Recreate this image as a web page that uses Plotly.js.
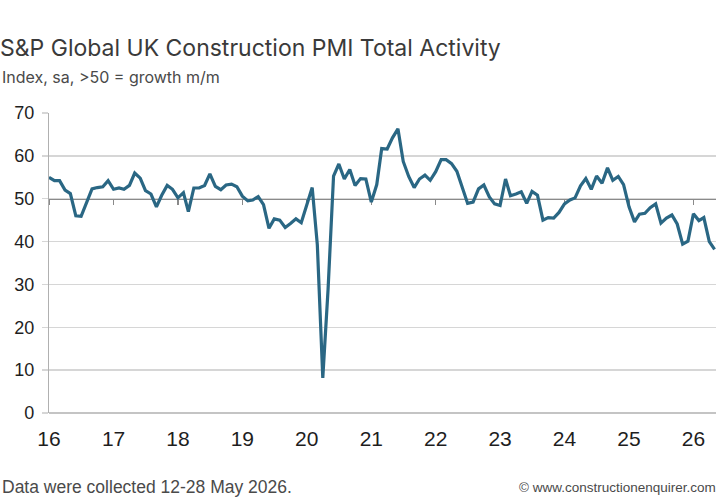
<!DOCTYPE html>
<html>
<head>
<meta charset="utf-8">
<script src="https://cdn.plot.ly/plotly-3.0.1.min.js"></script>
<style>
  html, body { margin: 0; padding: 0; background: #ffffff; }
  #chart { width: 725px; height: 500px; }
</style>
</head>
<body>
<div id="chart"></div>
<script>
// ---- Data (monthly index) ----
const startYear = 2016;
const pmi2016 = [55.0, 54.2, 54.2, 52.0, 51.2, 46.0, 45.9, 49.2, 52.3, 52.6, 52.8, 54.2];
const pmi2017 = [52.2, 52.5, 52.2, 53.1, 56.0, 54.8, 51.9, 51.1, 48.1, 50.8, 53.1, 52.2];
const pmi2018 = [50.2, 51.4, 47.0, 52.5, 52.5, 53.1, 55.8, 52.9, 52.1, 53.2, 53.4, 52.8];
const pmi2019 = [50.6, 49.5, 49.7, 50.5, 48.6, 43.1, 45.3, 45.0, 43.3, 44.2, 45.3, 44.4];
const pmi2020 = [48.4, 52.6, 39.3, 8.2, 28.9, 55.3, 58.1, 54.6, 56.8, 53.1, 54.7, 54.6];
const pmi2021 = [49.2, 53.3, 61.7, 61.6, 64.2, 66.3, 58.7, 55.2, 52.6, 54.6, 55.5, 54.3];
const pmi2022 = [56.3, 59.1, 59.1, 58.2, 56.4, 52.6, 48.9, 49.2, 52.3, 53.2, 50.4, 48.8];
const pmi2023 = [48.4, 54.6, 50.7, 51.1, 51.6, 48.9, 51.7, 50.8, 45.0, 45.6, 45.5, 46.8];
const pmi2024 = [48.8, 49.7, 50.2, 53.0, 54.7, 52.2, 55.3, 53.6, 57.2, 54.3, 55.2, 53.3];
const pmi2025 = [48.1, 44.6, 46.4, 46.6, 47.9, 48.8, 44.3, 45.5, 46.2, 44.1, 39.4, 40.1];
const pmi2026 = [46.5, 44.9, 45.6, 40.0, 38.2];

const tickYears = [2016, 2017, 2018, 2019, 2020, 2021, 2022, 2023, 2024, 2025, 2026];
const tickLabels = ["16", "17", "18", "19", "20", "21", "22", "23", "24", "25", "26"];
const yTicks = [0, 10, 20, 30, 40, 50, 60, 70];
const growthLine = 50;

const titleText = "S&P Global UK Construction PMI Total Activity";
const subtitleText = "Index, sa, >50 = growth m/m";
const footLeft = "Data were collected 12-28 May 2026.";
const footRight = "\u00A9 www.constructionenquirer.com";

// ---- Build series ----
const yearly = [pmi2016, pmi2017, pmi2018, pmi2019, pmi2020, pmi2021, pmi2022, pmi2023, pmi2024, pmi2025, pmi2026];
const xs = [], ys = [];
yearly.forEach((arr, i) => {
  arr.forEach((v, m) => {
    xs.push((startYear + i) + "-" + String(m + 1).padStart(2, "0") + "-01");
    ys.push(v);
  });
});
const tickVals = tickYears.map(y => y + "-01-01");
const xRange = ["2016-01-01", "2026-05-09"];
const yMax = 70;

const lineColor = "#2a6784";
const gridColor = "#d6d6d6";
const axisFont = "Liberation Sans, Arial, sans-serif";
const textFont = "Inter, Roboto, sans-serif";

const traces = [
  {
    type: "scatter", mode: "lines", x: xs, y: ys,
    xaxis: "x", yaxis: "y",
    line: { color: lineColor, width: 3.2, shape: "linear" },
    hoverinfo: "x+y", showlegend: false
  },
  { type: "scatter", mode: "lines", x: [], y: [], xaxis: "x2", yaxis: "y", showlegend: false, hoverinfo: "skip" }
];

const layout = {
  width: 725, height: 500,
  paper_bgcolor: "#ffffff", plot_bgcolor: "#ffffff",
  margin: { l: 49, r: 9, t: 113, b: 87 },
  showlegend: false,
  title: {
    text: titleText,
    font: { family: textFont, size: 23, color: "#3a3a3a" },
    xref: "container", yref: "container",
    x: 0, xanchor: "left", y: 1 - 48 / 500, yanchor: "middle",
    pad: { l: 0, r: 0, t: 0, b: 0 }
  },
  xaxis: {
    type: "date", range: xRange,
    tickmode: "array", tickvals: tickVals, ticktext: tickLabels,
    showgrid: false, zeroline: false, showline: false, ticks: "",
    tickfont: { family: axisFont, size: 21, color: "#1e1e1e" },
    ticklabelstandoff: 11,
    fixedrange: true
  },
  xaxis2: {
    type: "date", range: xRange, overlaying: "x", anchor: "free",
    position: growthLine / yMax, side: "bottom",
    tickmode: "array", tickvals: tickVals,
    showticklabels: false, showgrid: false, zeroline: false,
    showline: true, linecolor: "#8a8a8a", linewidth: 1.5,
    ticks: "outside", ticklen: 5, tickcolor: "#8a8a8a", tickwidth: 1.2,
    layer: "below traces", fixedrange: true
  },
  yaxis: {
    range: [0, yMax], tickmode: "array", tickvals: yTicks,
    showgrid: true, gridcolor: gridColor, gridwidth: 1.5,
    zeroline: true, zerolinecolor: "#c4c4c4", zerolinewidth: 1.5,
    showline: true, linecolor: "#b0b0b0", linewidth: 1.2,
    ticks: "outside", ticklen: 6, tickcolor: gridColor, tickwidth: 1.5,
    tickfont: { family: axisFont, size: 18, color: "#1e1e1e" },
    ticklabelstandoff: 4,
    fixedrange: true
  },
  annotations: [
    {
      text: subtitleText, xref: "paper", yref: "paper",
      x: -49 / 667, xanchor: "left", y: 1 + 36 / 300, yanchor: "middle",
      showarrow: false,
      font: { family: textFont, size: 16, color: "#4a4a4a" }
    },
    {
      text: footLeft, xref: "paper", yref: "paper",
      x: -49 / 667, xanchor: "left", y: -74 / 300, yanchor: "middle",
      showarrow: false,
      font: { family: axisFont, size: 17.5, color: "#4a4a4a" }
    },
    {
      text: footRight, xref: "paper", yref: "paper",
      x: 1 + 2 / 667, xanchor: "right", y: -74 / 300, yanchor: "middle",
      showarrow: false,
      font: { family: axisFont, size: 13.5, color: "#4a4a4a" }
    }
  ]
};

Plotly.newPlot("chart", traces, layout, { displayModeBar: false, staticPlot: true });
</script>
</body>
</html>
